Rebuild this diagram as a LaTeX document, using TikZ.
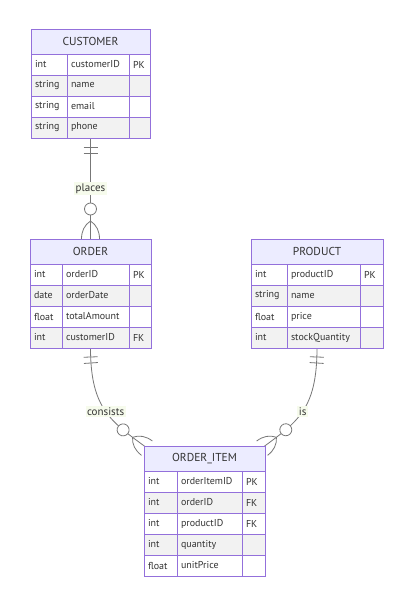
\documentclass[tikz,border=0pt]{standalone}
\usepackage{fontspec}
\setmainfont{PT Sans}
\usetikzlibrary{decorations.markings}

\definecolor{erborder}{HTML}{9370DB}
\definecolor{erhead}{HTML}{ECECFF}
\definecolor{rowgray}{HTML}{F2F2F2}
\definecolor{ertext}{HTML}{333333}
\definecolor{relline}{HTML}{777777}
\definecolor{lblbg}{HTML}{F6FBEC}

\tikzset{
  entbox/.style={inner sep=0pt, outer sep=0pt, anchor=north west},
  hdr/.style={draw=erborder, fill=erhead, line width=0.9pt, inner sep=0pt,
    outer sep=0pt, minimum height=25pt, anchor=north west, text=ertext,
    font=\fontsize{11.5}{14}\selectfont},
  cell/.style={draw=erborder, line width=0.9pt, inner xsep=4pt, inner ysep=0pt,
    outer sep=0pt, minimum height=21pt, anchor=north west, align=left,
    text=ertext, font=\fontsize{10}{12}\selectfont},
  rel/.style={draw=relline, line width=0.8pt},
  lbl/.style={fill=lblbg, inner sep=1.5pt, text=ertext,
    font=\fontsize{11}{13}\selectfont},
  % exactly-one marker at the start of a relationship line
  oneonly/.style={postaction={decorate, decoration={markings,
    mark=at position 9pt with {\draw[rel] (0pt,-7pt) -- (0pt,7pt);},
    mark=at position 15pt with {\draw[rel] (0pt,-7pt) -- (0pt,7pt);}}}},
  % zero-or-more marker (circle + crow's foot) at the end
  zeromany/.style={postaction={decorate, decoration={markings,
    mark=at position -30pt with {\draw[rel, fill=white] (0pt,0pt) circle (6pt);},
    mark=at position -18pt with {\draw[rel]
      (0pt,0pt) .. controls (4pt,6pt) and (10pt,9pt) .. (18pt,9pt)
      (0pt,0pt) .. controls (4pt,-6pt) and (10pt,-9pt) .. (18pt,-9pt);}}}},
}

% #1 id, #2 left, #3 top, #4-#6 column widths, #7 unused, #8 title, #9 rows type/name/key
\newcommand{\erentity}[9]{%
  \pgfmathsetmacro\entw{#4+#5+#6}%
  \node[hdr, minimum width=\entw pt] (#1-head) at (#2,#3) {#8};%
  \pgfmathsetmacro\wa{#4-8}%
  \pgfmathsetmacro\wb{#5-8}%
  \pgfmathsetmacro\wc{#6-8}%
  \foreach [count=\r] \ta/\na/\ka in {#9} {%
    \pgfmathsetmacro\ry{#3+25+(\r-1)*21}%
    \pgfmathtruncatemacro\odd{mod(\r,2)}%
    \ifnum\odd=1 \colorlet{cellfill}{white}\else\colorlet{cellfill}{rowgray}\fi
    \node[cell, fill=cellfill, text width=\wa pt] (#1-\r-t) at (#2,\ry) {\ta};%
    \node[cell, fill=cellfill, text width=\wb pt] (#1-\r-n) at (#2+#4,\ry) {\na};%
    \node[cell, fill=cellfill, text width=\wc pt] (#1-\r-k) at (#2+#4+#5,\ry) {\ka};%
  }%
}

\begin{document}
\begin{tikzpicture}[x=1pt,y=-1pt]
  \fill[white] (0,0) rectangle (412,609);
  \useasboundingbox (0,0) rectangle (412,609);

  % entity outlines (named, drawn over by the cells)
  \node[entbox, minimum width=119pt, minimum height=109pt] (customer) at (31,29) {};
  \node[entbox, minimum width=121pt, minimum height=109pt] (order) at (30,239) {};
  \node[entbox, minimum width=132pt, minimum height=109pt] (product) at (251,239) {};
  \node[entbox, minimum width=121pt, minimum height=130pt] (oi) at (144,446) {};

  % relationships
  \draw[rel, oneonly, zeromany] (customer.south) -- (order.north)
    node[lbl, pos=0.5] {places};
  \draw[rel, oneonly, zeromany] (order.south) .. controls +(0,62) and +(-35,-26) ..
    ([shift={(3,2)}]oi.north west) node[lbl, pos=0.5] {consists};
  \draw[rel, oneonly, zeromany] (product.south) .. controls +(0,62) and +(35,-26) ..
    ([shift={(-3,2)}]oi.north east) node[lbl, pos=0.5] {is};

  % entities
  \erentity{cu}{31}{29}{36}{62}{21}{}{CUSTOMER}%
    {int/customerID/PK, string/name/{}, string/email/{}, string/phone/{}}
  \erentity{or}{30}{239}{32}{67}{22}{}{ORDER}%
    {int/orderID/PK, date/orderDate/{}, float/totalAmount/{}, int/customerID/FK}
  \erentity{pr}{251}{239}{36}{73}{23}{}{PRODUCT}%
    {int/productID/PK, string/name/{}, float/price/{}, int/stockQuantity/{}}
  \erentity{it}{144}{446}{33}{65}{23}{}{ORDER\_ITEM}%
    {int/orderItemID/PK, int/orderID/FK, int/productID/FK, int/quantity/{}, float/unitPrice/{}}
\end{tikzpicture}
\end{document}
